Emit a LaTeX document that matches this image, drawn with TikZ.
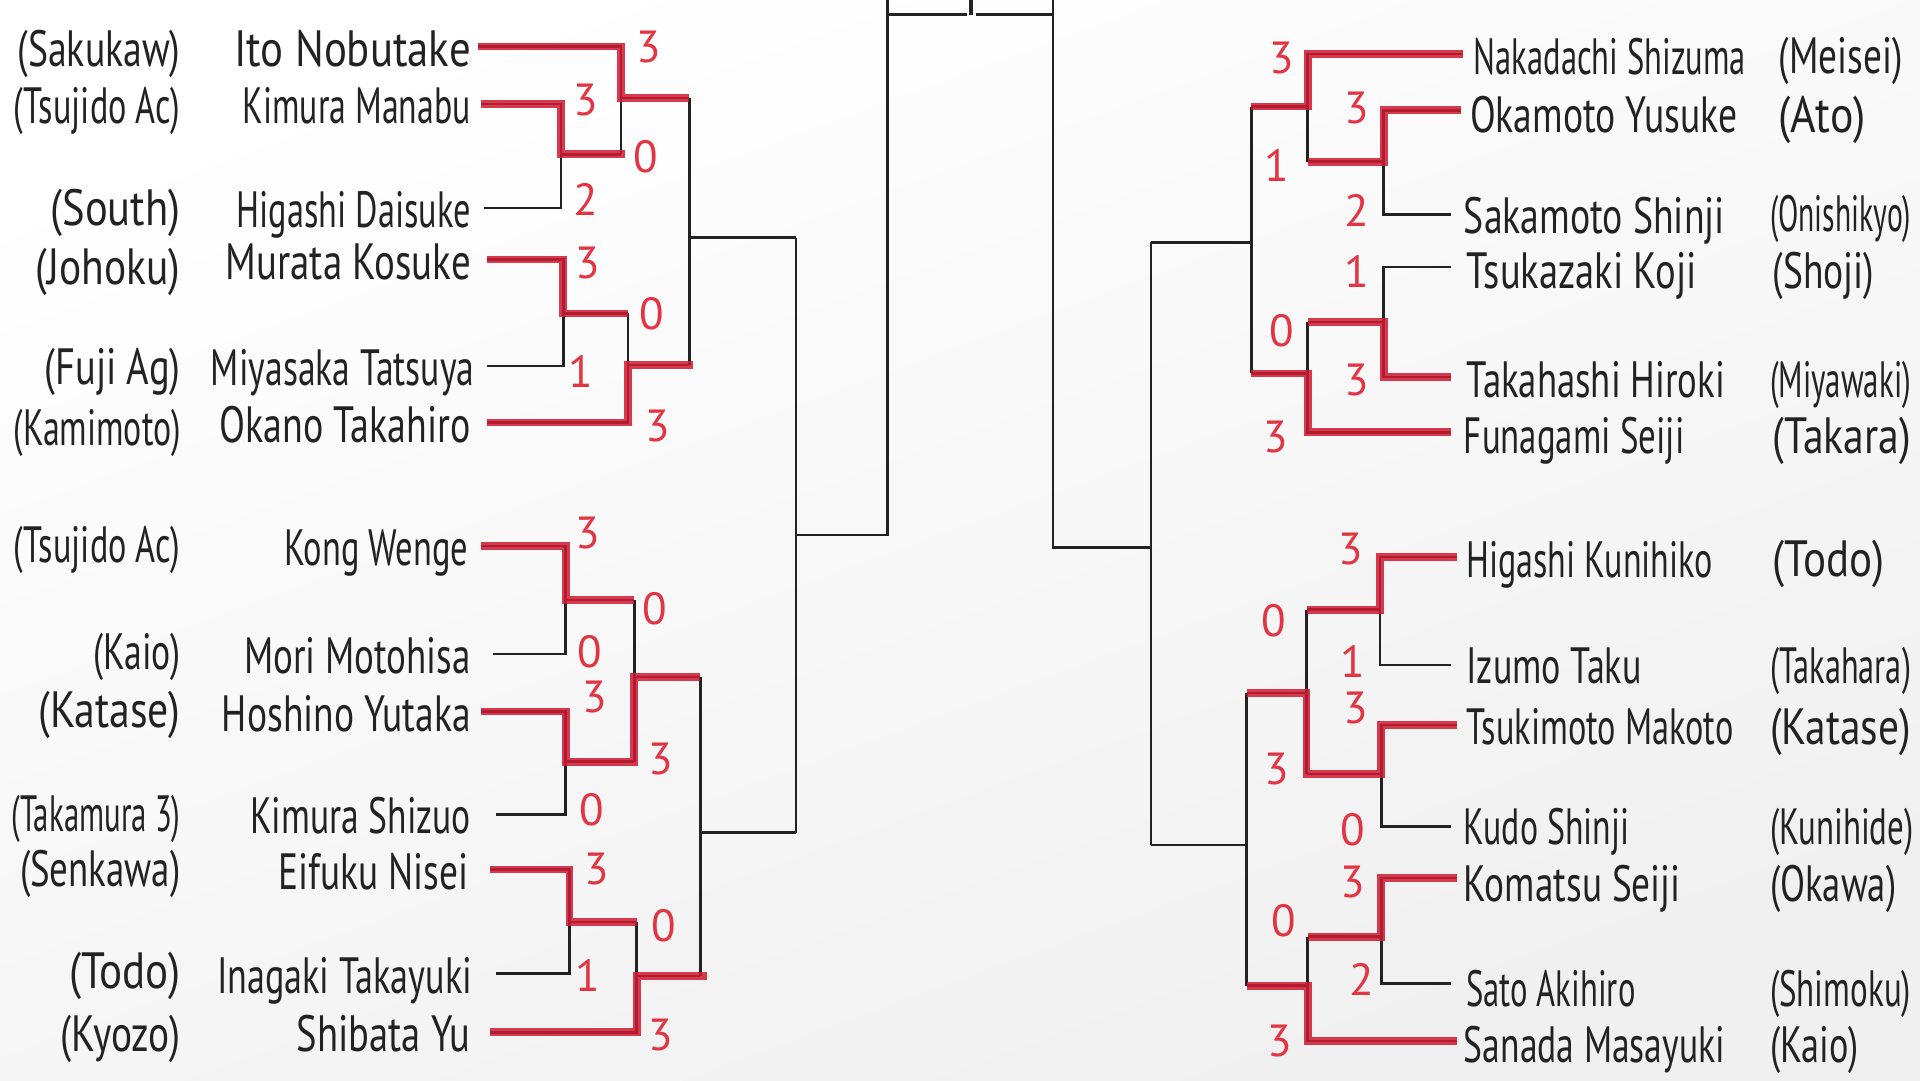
\documentclass[tikz,border=0pt]{standalone}
\usepackage{fontspec}
\usepackage{graphicx}
\newfontfamily\hand{PT Sans}
\definecolor{hred}{RGB}{206,26,50}
\definecolor{sred}{RGB}{226,52,66}
\definecolor{ink}{RGB}{34,34,34}
\newdimen\upx \upx=0.3484pt
\newcommand\tw[2]{\resizebox{#1\upx}{\height}{#2}}
\tikzset{
  bline/.style={draw=ink, line width=0.75pt, line join=miter},
  rline/.style={draw=hred, opacity=0.85, line width=2.2pt, line join=miter},
  nm/.style={font=\hand\fontsize{14.5}{16}\selectfont, text=ink, inner sep=0pt},
  nml/.style={nm, anchor=base east},
  nmr/.style={nm, anchor=base west},
  sc/.style={font=\hand\fontsize{12.8}{14}\selectfont, text=sred, inner sep=0pt},
}
\begin{document}
\begin{tikzpicture}[x=0.012245cm, y=-0.012245cm]
\useasboundingbox (0,0) rectangle (1568,882);
\shade[top color=white, bottom color=black!6, shading angle=20] (0,0) rectangle (1568,882);

% ---------- left names ----------
\node[nml] (nL1)  at (385,54)  {\tw{193}{Ito Nobutake}};
\node[nml] (nL2)  at (385,101) {\tw{186}{Kimura Manabu}};
\node[nml] (nL3)  at (385,186) {\tw{191}{Higashi Daisuke}};
\node[nml] (nL4)  at (385,228) {\tw{200}{Murata Kosuke}};
\node[nml] (nL5)  at (388,315) {\tw{215}{Miyasaka Tatsuya}};
\node[nml] (nL6)  at (385,361) {\tw{205}{Okano Takahiro}};
\node[nml] (nL7)  at (383,462) {\tw{150}{Kong Wenge}};
\node[nml] (nL8)  at (385,550) {\tw{185}{Mori Motohisa}};
\node[nml] (nL9)  at (385,597) {\tw{203}{Hoshino Yutaka}};
\node[nml] (nL10) at (385,681) {\tw{180}{Kimura Shizuo}};
\node[nml] (nL11) at (383,726) {\tw{155}{Eifuku Nisei}};
\node[nml] (nL12) at (386,811) {\tw{208}{Inagaki Takayuki}};
\node[nml] (nL13) at (385,859) {\tw{142}{Shibata Yu}};

\node[nml] (tL1)  at (148,54)  {\tw{133}{(Sakukaw)}};
\node[nml] (tL2)  at (148,101) {\tw{136}{(Tsujido Ac)}};
\node[nml] (tL3)  at (148,184) {\tw{106}{(South)}};
\node[nml] (tL4)  at (148,232) {\tw{118}{(Johoku)}};
\node[nml] (tL5)  at (148,314) {\tw{111}{(Fuji Ag)}};
\node[nml] (tL6)  at (148,364) {\tw{136}{(Kamimoto)}};
\node[nml] (tL7)  at (148,459) {\tw{136}{(Tsujido Ac)}};
\node[nml] (tL8)  at (148,547) {\tw{71}{(Kaio)}};
\node[nml] (tL9)  at (148,594) {\tw{116}{(Katase)}};
\node[nml] (tL10) at (148,679) {\tw{138}{(Takamura 3)}};
\node[nml] (tL11) at (148,724) {\tw{131}{(Senkawa)}};
\node[nml] (tL12) at (148,807) {\tw{91}{(Todo)}};
\node[nml] (tL13) at (148,859) {\tw{98}{(Kyozo)}};

% ---------- right names ----------
\node[nmr] (nR1)  at (1203,61)  {\tw{222}{Nakadachi Shizuma}};
\node[nmr] (nR2)  at (1200,108) {\tw{218}{Okamoto Yusuke}};
\node[nmr] (nR3)  at (1195,191) {\tw{213}{Sakamoto Shinji}};
\node[nmr] (nR4)  at (1197,236) {\tw{188}{Tsukazaki Koji}};
\node[nmr] (nR5)  at (1197,325) {\tw{211}{Takahashi Hiroki}};
\node[nmr] (nR6)  at (1195,370) {\tw{180}{Funagami Seiji}};
\node[nmr] (nR7)  at (1197,472) {\tw{201}{Higashi Kunihiko}};
\node[nmr] (nR8)  at (1197,558) {\tw{143}{Izumo Taku}};
\node[nmr] (nR9)  at (1197,608) {\tw{218}{Tsukimoto Makoto}};
\node[nmr] (nR10) at (1195,690) {\tw{135}{Kudo Shinji}};
\node[nmr] (nR11) at (1195,736) {\tw{177}{Komatsu Seiji}};
\node[nmr] (nR12) at (1197,822) {\tw{138}{Sato Akihiro}};
\node[nmr] (nR13) at (1195,868) {\tw{213}{Sanada Masayuki}};

\node[nmr] (tR1)  at (1452,60)  {\tw{101}{(Meisei)}};
\node[nmr] (tR2)  at (1452,108) {\tw{71}{(Ato)}};
\node[nmr] (tR3)  at (1445,189) {\tw{115}{(Onishikyo)}};
\node[nmr] (tR4)  at (1447,236) {\tw{83}{(Shoji)}};
\node[nmr] (tR5)  at (1445,325) {\tw{115}{(Miyawaki)}};
\node[nmr] (tR6)  at (1447,370) {\tw{113}{(Takara)}};
\node[nmr] (tR7)  at (1447,471) {\tw{91}{(Todo)}};
\node[nmr] (tR8)  at (1445,558) {\tw{115}{(Takahara)}};
\node[nmr] (tR9)  at (1445,608) {\tw{115}{(Katase)}};
\node[nmr] (tR10) at (1445,690) {\tw{117}{(Kunihide)}};
\node[nmr] (tR11) at (1445,736) {\tw{103}{(Okawa)}};
\node[nmr] (tR12) at (1445,822) {\tw{115}{(Shimoku)}};
\node[nmr] (tR13) at (1445,868) {\tw{72}{(Kaio)}};

% ---------- line start coordinates ----------
\coordinate (a1) at (390,38);  \coordinate (a2) at (393,85);
\coordinate (a3) at (395,170); \coordinate (a4) at (398,212);
\coordinate (a5) at (398,299); \coordinate (a6) at (398,345);
\coordinate (a7) at (393,446); \coordinate (a8) at (403,534);
\coordinate (a9) at (393,581); \coordinate (a10) at (405,665);
\coordinate (a11) at (400,710); \coordinate (a12) at (405,795);
\coordinate (a13) at (400,843);
\coordinate (b1) at (1195,44);  \coordinate (b2) at (1193,90);
\coordinate (b3) at (1185,175); \coordinate (b4) at (1185,218);
\coordinate (b5) at (1185,308); \coordinate (b6) at (1185,353);
\coordinate (b7) at (1190,455); \coordinate (b8) at (1185,543);
\coordinate (b9) at (1190,592); \coordinate (b10) at (1185,675);
\coordinate (b11) at (1190,717); \coordinate (b12) at (1185,803);
\coordinate (b13) at (1190,850);

% ---------- black bracket: left ----------
\draw[bline] (a2) -| (458,126);
\draw[bline] (a3) -| (458,126) -- (507,126);
\draw[bline] (a1) -| (507,126);
\draw[bline] (507,80) -- (563,80);
\draw[bline] (a4) -| (460,256);
\draw[bline] (a5) -| (460,256) -- (513,256);
\draw[bline] (a6) -| (513,256);
\draw[bline] (513,298) -- (563,298);
\draw[bline] (563,80) -- (563,298);
\draw[bline] (563,194) -- (650,194);
\draw[bline] (a7) -| (462,490);
\draw[bline] (a8) -| (462,490) -- (518,490);
\draw[bline] (a9) -| (462,622);
\draw[bline] (a10) -| (462,622) -- (518,622);
\draw[bline] (518,490) -- (518,622);
\draw[bline] (518,553) -- (572,553);
\draw[bline] (a11) -| (465,753);
\draw[bline] (a12) -| (465,753) -- (520,753);
\draw[bline] (a13) -| (520,753);
\draw[bline] (520,797) -- (572,797);
\draw[bline] (572,553) -- (572,797);
\draw[bline] (572,680) -- (650,680);
\draw[bline] (650,194) -- (650,680);
\draw[bline] (650,437) -- (725,437) -- (725,0);
% ---------- top ----------
\draw[bline] (725,12) -- (790,12);
\draw[bline, line width=1.4pt] (793,0) -- (793,12);
\draw[bline] (797,12) -- (860,12);
\draw[bline] (860,0) -- (860,447) -- (940,447);
% ---------- black bracket: right ----------
\draw[bline] (b2) -| (1130,132);
\draw[bline] (b3) -| (1130,132) -- (1068,132);
\draw[bline] (b1) -| (1068,132);
\draw[bline] (1068,87) -- (1022,87);
\draw[bline] (b4) -| (1130,263);
\draw[bline] (b5) -| (1130,263) -- (1068,263);
\draw[bline] (b6) -| (1068,263);
\draw[bline] (1068,305) -- (1022,305);
\draw[bline] (1022,87) -- (1022,305);
\draw[bline] (1022,198) -- (940,198);
\draw[bline] (b7) -| (1127,498);
\draw[bline] (b8) -| (1127,498) -- (1067,498);
\draw[bline] (b9) -| (1128,632);
\draw[bline] (b10) -| (1128,632) -- (1067,632);
\draw[bline] (1067,498) -- (1067,632);
\draw[bline] (1067,566) -- (1018,566);
\draw[bline] (b11) -| (1128,765);
\draw[bline] (b12) -| (1128,765) -- (1068,765);
\draw[bline] (b13) -| (1068,765);
\draw[bline] (1068,805) -- (1018,805);
\draw[bline] (1018,566) -- (1018,805);
\draw[bline] (1018,690) -- (940,690);
\draw[bline] (940,198) -- (940,690);

% ---------- red winner paths ----------
\draw[rline] (a1) -| (507,80) -- (563,80);
\draw[rline] (a2) -| (458,126) -- (510,126);
\draw[rline] (a4) -| (460,256) -- (513,256);
\draw[rline] (a6) -| (513,298) -- (566,298);
\draw[rline] (a7) -| (462,490) -- (518,490);
\draw[rline] (a9) -| (462,622) -| (518,553) -- (572,553);
\draw[rline] (a11) -| (465,753) -- (520,753);
\draw[rline] (a13) -| (520,797) -- (577,797);
\draw[rline] (b1) -| (1068,87) -- (1022,87);
\draw[rline] (b2) -| (1130,132) -- (1068,132);
\draw[rline] (b5) -| (1130,263) -- (1068,263);
\draw[rline] (b6) -| (1068,305) -- (1022,305);
\draw[rline] (b7) -| (1127,498) -- (1067,498);
\draw[rline] (b9) -| (1128,632) -| (1067,566) -- (1018,566);
\draw[rline] (b11) -| (1128,765) -- (1068,765);
\draw[rline] (b13) -| (1068,805) -- (1018,805);

% ---------- scores left ----------
\node[sc] (sL1)  at (530,38)  {3};
\node[sc] (sL2)  at (478,82)  {3};
\node[sc] (sL3)  at (527,128) {0};
\node[sc] (sL4)  at (478,163) {2};
\node[sc] (sL5)  at (480,215) {3};
\node[sc] (sL6)  at (532,256) {0};
\node[sc] (sL7)  at (474,303) {1};
\node[sc] (sL8)  at (537,348) {3};
\node[sc] (sL9)  at (480,435) {3};
\node[sc] (sL10) at (535,497) {0};
\node[sc] (sL11) at (482,532) {0};
\node[sc] (sL12) at (486,569) {3};
\node[sc] (sL13) at (540,620) {3};
\node[sc] (sL14) at (483,661) {0};
\node[sc] (sL15) at (487,710) {3};
\node[sc] (sL16) at (542,756) {0};
\node[sc] (sL17) at (480,797) {1};
\node[sc] (sL18) at (540,845) {3};
% ---------- scores right ----------
\node[sc] (sR1)  at (1047,47)  {3};
\node[sc] (sR2)  at (1108,88)  {3};
\node[sc] (sR3)  at (1043,135) {1};
\node[sc] (sR4)  at (1108,172) {2};
\node[sc] (sR5)  at (1108,222) {1};
\node[sc] (sR6)  at (1047,270) {0};
\node[sc] (sR7)  at (1108,310) {3};
\node[sc] (sR8)  at (1042,357) {3};
\node[sc] (sR9)  at (1103,448) {3};
\node[sc] (sR10) at (1040,507) {0};
\node[sc] (sR11) at (1105,540) {1};
\node[sc] (sR12) at (1107,578) {3};
\node[sc] (sR13) at (1043,628) {3};
\node[sc] (sR14) at (1105,678) {0};
\node[sc] (sR15) at (1105,720) {3};
\node[sc] (sR16) at (1048,752) {0};
\node[sc] (sR17) at (1112,800) {2};
\node[sc] (sR18) at (1045,850) {3};
\end{tikzpicture}
\end{document}
